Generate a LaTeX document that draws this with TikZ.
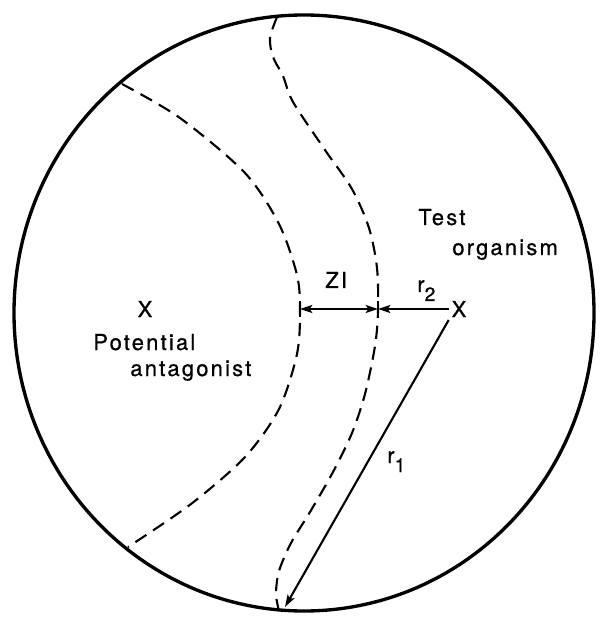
\documentclass[tikz,border=0pt]{standalone}
\usepackage{fontspec}
\setmainfont{TeX Gyre Heros}[LetterSpace=10, FakeBold=0.7]
\usetikzlibrary{arrows.meta}

\tikzset{
  rim/.style={line width=1.9pt},
  zone/.style={line width=1.2pt, dash pattern=on 7.5pt off 4.5pt},
  dim/.style={line width=1.2pt},
  lbl/.style={anchor=base west, inner sep=0pt, font=\fontsize{12.5}{15}\selectfont},
  cross/.style={inner sep=1.5pt, font=\fontsize{12.5}{15}\selectfont},
}
\newcommand{\lowsub}[1]{\raisebox{-0.18cm}{\fontsize{11}{13}\selectfont #1}}

\begin{document}
\begin{tikzpicture}[x=0.02cm, y=-0.02cm, >={Stealth[length=7pt,width=4.5pt,inset=1.5pt]}]
  \useasboundingbox (0,0) rectangle (600,617);
  % the plate
  \draw[rim] (304,313) ellipse [x radius=290, y radius=298];
  % edge of the antagonist colony and edge of the clear zone
  \draw[zone] plot[smooth] coordinates {(122,84) (180,118) (245,173) (279,224) (297,275) (300,311)
    (297,354) (279,409) (245,457) (191,504) (128,547)};
  \draw[zone] plot[smooth] coordinates {(277,17) (270,38) (273,57) (283,76) (293,102) (325,150)
    (352,189) (369,228) (377,268) (378,311) (375,346) (365,394) (352,433) (333,472) (310,512)
    (291,543) (279,571) (276,594) (279,611)};
  % the two inocula
  \node[cross] (antX) at (145,309) {X};
  \node[cross] (testX) at (459,309) {X};
  \coordinate (inner) at (300,309);
  \coordinate (outer) at (378,309);
  \coordinate (edge) at (285,607);
  \draw[dim] (inner) +(0,-8) -- +(0,8);
  \draw[dim] (outer) +(0,-8) -- +(0,8);
  \draw[dim, <->] (inner) -- (outer);
  \draw[dim, ->] (testX.west) -- (outer);
  \draw[dim, ->] (testX.south west) -- (edge);
  % labels
  \node[lbl] (testlbl) at (418,225) {Test};
  \node[lbl] (orglbl) at (452,255) {organism};
  \node[lbl] (potlbl) at (93,350) {Potential};
  \node[lbl] (antlbl) at (130,376) {antagonist};
  \node[lbl] (zilbl) at (325,288) {ZI};
  \node[lbl] (rtwo) at (417,292) {r\lowsub{2}};
  \node[lbl] (rone) at (387,463) {r\lowsub{1}};
\end{tikzpicture}
\end{document}
